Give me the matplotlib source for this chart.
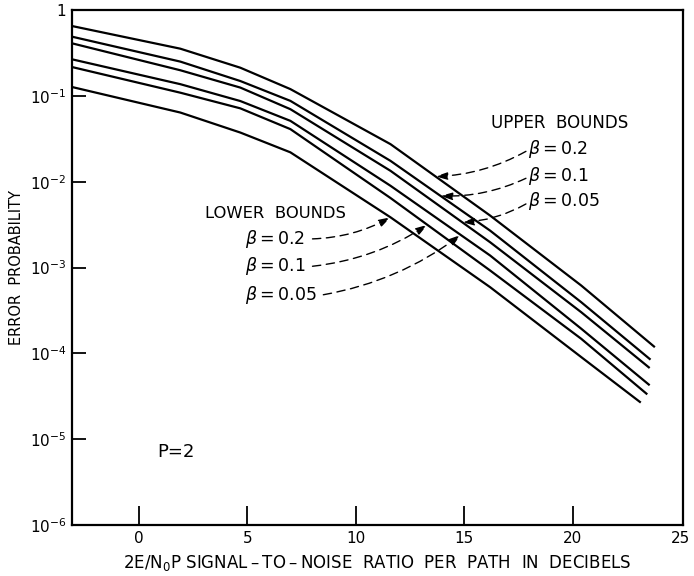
import numpy as np
import matplotlib
matplotlib.use("Agg")
import matplotlib.pyplot as plt

# -----------------------------
# Data
# -----------------------------
snr_db = [-3.1, 1.9, 4.67, 6.98, 11.6, 16.2, 20.4]
end_db = {"up_02": 23.8, "up_01": 23.6, "up_005": 23.56,
          "lo_005": 23.56, "lo_01": 23.45, "lo_02": 23.15}

upper_02 = [0.652, 0.355, 0.213, 0.120, 0.0274, 4.03e-3, 6.18e-4, 1.18e-4]
upper_01 = [0.490, 0.251, 0.149, 0.0875, 0.0175, 2.69e-3, 3.95e-4, 8.45e-5]
upper_005 = [0.410, 0.199, 0.125, 0.070, 0.0134, 1.97e-3, 3.02e-4, 6.75e-5]
lower_005 = [0.267, 0.137, 0.0871, 0.0512, 8.97e-3, 1.38e-3, 1.94e-4, 4.25e-5]
lower_01 = [0.217, 0.109, 0.0716, 0.0410, 6.46e-3, 9.23e-4, 1.48e-4, 3.33e-5]
lower_02 = [0.127, 0.064, 0.0374, 0.022, 3.85e-3, 5.90e-4, 9.06e-5, 2.67e-5]

curves = {
    "up_02": upper_02, "up_01": upper_01, "up_005": upper_005,
    "lo_005": lower_005, "lo_01": lower_01, "lo_02": lower_02,
}

x_ticks = [0, 5, 10, 15, 20, 25]
y_ticks = [1e-6, 1e-5, 1e-4, 1e-3, 1e-2, 1e-1, 1]
y_labels = [r"$10^{-6}$", r"$10^{-5}$", r"$10^{-4}$", r"$10^{-3}$",
            r"$10^{-2}$", r"$10^{-1}$", "1"]

# labels and where their arrows land (x in dB on the curve)
upper_labels = [("up_02", r"$\beta=$0.2", 13.68),
                ("up_01", r"$\beta=$0.1", 13.91),
                ("up_005", r"$\beta=$0.05", 14.91)]
lower_labels = [("lo_02", r"$\beta=$0.2", 11.60),
                ("lo_01", r"$\beta=$0.1", 13.30),
                ("lo_005", r"$\beta=$0.05", 14.84)]

# -----------------------------
# Figure
# -----------------------------
plt.rcParams["font.family"] = "DejaVu Sans"
plt.rcParams["mathtext.fontset"] = "dejavusans"

fig = plt.figure(figsize=(6.94, 5.76), dpi=100)
ax = fig.add_axes([0.1037, 0.0885, 0.8805, 0.894])

for key, vals in curves.items():
    xs = snr_db + [end_db[key]]
    ax.semilogy(xs, vals, color="black", lw=1.6, solid_capstyle="butt",
                solid_joinstyle="round")

ax.set_xlim(-3.1, 25.1)
ax.set_ylim(1e-6, 1)

ax.set_xticks(x_ticks)
ax.set_xticklabels([str(t) for t in x_ticks])
ax.set_yticks(y_ticks)
ax.set_yticklabels(y_labels)
ax.minorticks_off()
ax.tick_params(axis="x", direction="in", length=14, width=1.3, labelsize=11, pad=4)
ax.tick_params(axis="y", direction="in", length=10, width=1.3, labelsize=11, pad=4)
ax.xaxis.get_major_ticks()[-1].tick1line.set_visible(False)
ax.yaxis.get_major_ticks()[-1].tick1line.set_visible(False)
for s in ax.spines.values():
    s.set_linewidth(1.6)

ax.set_xlabel("2E/N$_0$P SIGNAL\u2009\u2013\u2009TO\u2009\u2013\u2009NOISE  RATIO  PER  PATH  IN  DECIBELS",
              fontsize=12, labelpad=5)
ax.set_ylabel("ERROR  PROBABILITY", fontsize=10.5, labelpad=4)


def on_curve(key, xdb):
    xs = snr_db + [end_db[key]]
    return 10 ** np.interp(xdb, xs, np.log10(curves[key]))


ap = dict(arrowstyle="-|>,head_length=0.7,head_width=0.22", color="black",
          lw=1.0, linestyle=(0, (6, 4)), shrinkA=0, shrinkB=0)

# upper bounds
ax.text(16.23, 10 ** -1.31, "UPPER  BOUNDS", fontsize=12, va="center", ha="left")
for (key, lab, xt), ly in zip(upper_labels, [-1.616, -1.93, -2.229]):
    ax.text(17.93, 10 ** ly, lab, fontsize=12.5, va="center", ha="left")
    ax.annotate("", xy=(xt, on_curve(key, xt)), xytext=(17.85, 10 ** (ly - 0.03)),
                arrowprops=dict(ap, connectionstyle="arc3,rad=-0.12"))

# lower bounds
ax.text(3.06, 10 ** -2.37, "LOWER  BOUNDS", fontsize=11.8, va="center", ha="left")
for (key, lab, xt), ly in zip(lower_labels, [-2.666, -2.985, -3.317]):
    ax.text(4.9, 10 ** ly, lab, fontsize=12.5, va="center", ha="left")
    x0 = 8.0 if "0.05" not in lab else 8.5
    ax.annotate("", xy=(xt, on_curve(key, xt)), xytext=(x0, 10 ** ly),
                arrowprops=dict(ap, connectionstyle="arc3,rad=0.12"))

ax.text(0.83, 10 ** -5.148, "P=2", fontsize=13, va="center", ha="left")

fig.savefig("out.png", dpi=100)
